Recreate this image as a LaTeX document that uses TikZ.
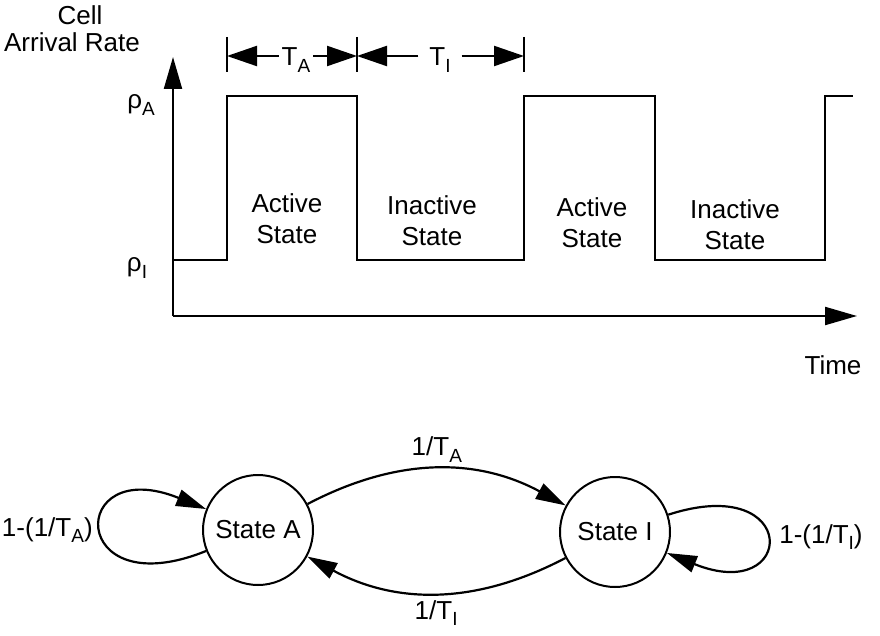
\documentclass[tikz,border=0pt]{standalone}
\usepackage{fontspec}
\setmainfont{Liberation Sans}
\usepackage{tikz}
\usetikzlibrary{arrows.meta,positioning}
\newcommand{\dn}[1]{\raisebox{-0.45ex}{\fontsize{19}{19}\selectfont #1}}

\begin{document}
\begin{tikzpicture}[x=1pt,y=-1pt,line width=2.2pt,
  lbl/.style={inner sep=0pt,align=center,font=\fontsize{26}{31}\selectfont},
  statenode/.style={circle,draw,line width=2pt,minimum size=110pt,inner sep=0pt,font=\fontsize{26}{31}\selectfont},
  axarr/.style={-{Triangle[length=32pt,width=18pt]}},
  dimarr/.style={-{Triangle[length=30pt,width=20pt]}},
  trarr/.style={-{Triangle[length=30pt,width=17pt]}}]
\useasboundingbox (0,0) rectangle (880,636);
% rate against time
\node[lbl] (cell) at (80,15) {Cell};
\node[lbl] (rate) at (72,42) {Arrival Rate};
\coordinate (o) at (173,316);
\coordinate (ytop) at (173,57);
\coordinate (xend) at (857,316);
\draw[axarr] (o) -- (ytop);
\draw[axarr] (o) -- (xend);
\node[lbl] (rhoa) at (141,105) {ρ\dn{A}};
\node[lbl] (rhoi) at (137,268) {ρ\dn{I}};
\node[lbl] (time) at (833,365) {Time};
\draw (173,260) -- (227,260) -- (227,96) -- (357,96) -- (357,260) -- (524,260) -- (524,96) -- (655,96) -- (655,260) -- (825,260) -- (825,96) -- (853,96);
\node[lbl] (act1) at (287,219) {Active\\State};
\node[lbl] (inact1) at (432,221) {Inactive\\State};
\node[lbl] (act2) at (592,223) {Active\\State};
\node[lbl] (inact2) at (735,225) {Inactive\\State};
% periods
\coordinate (k0) at (227,56);
\coordinate (k1) at (357,56);
\coordinate (k2) at (524,56);
\foreach \k in {k0,k1,k2}
  \draw ([yshift=19pt]\k) -- ([yshift=-16pt]\k);
\node[lbl,inner xsep=2pt] (ta) at (296,60) {T\dn{A}};
\node[lbl,inner xsep=10pt] (ti) at (440,60) {T\dn{I}};
\draw[dimarr] (ta.west |- k0) -- (k0);
\draw[dimarr] (ta.east |- k0) -- (k1);
\draw[dimarr] (ti.west |- k1) -- (k1);
\draw[dimarr] (ti.east |- k2) -- (k2);
% two state chain
\node[statenode] (sa) at (258,530) {State A};
\node[statenode] (si) at (615,532) {State I};
\draw[trarr] (sa) to[bend left=28] node[lbl,above=6pt] (ra) {1/T\dn{A}} (si);
\draw[trarr] (si) to[bend left=28] node[lbl,below=7pt] (ri) {1/T\dn{I}} (sa);
\draw[trarr] (sa) to[out=202,in=158,distance=150pt] node[lbl,left=8pt] (la) {1-(1/T\dn{A})} (sa);
\draw[trarr] (si) to[out=18,in=-22,distance=140pt] node[lbl,right=12pt] (li) {1-(1/T\dn{I})} (si);
\end{tikzpicture}
\end{document}
